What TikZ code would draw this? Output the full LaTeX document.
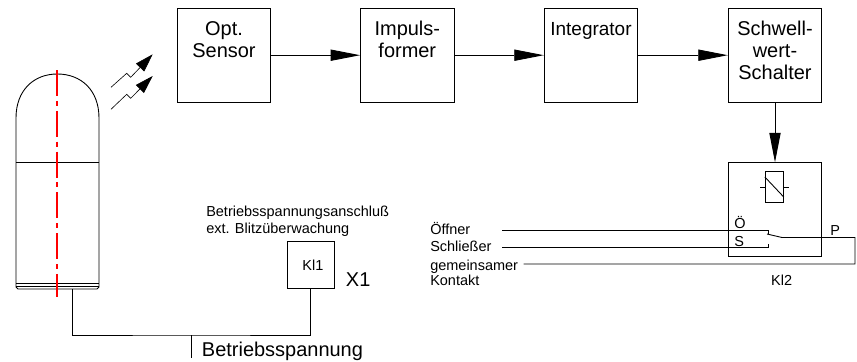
\documentclass[tikz,border=0pt]{standalone}
\usepackage{fontspec}
\setmainfont{Liberation Sans}
\usetikzlibrary{arrows.meta,positioning,calc}
\definecolor{axisred}{RGB}{255,0,0}
\tikzset{>={Triangle[length=21pt,width=8pt]}}
\tikzset{line/.style={line width=0.22mm}}
\tikzset{blockbox/.style={draw,line width=0.22mm,inner sep=0pt,minimum width=66.5pt,minimum height=66.5pt}}
\tikzset{bigtxt/.style={inner sep=0pt,font=\fontsize{14.2}{15.8}\selectfont,align=left}}
\tikzset{smalltxt/.style={inner sep=0pt,font=\fontsize{10.3}{12}\selectfont,align=left}}
\newcommand{\blocktext}[1]{\parbox[c][66pt][t]{66pt}{\centering\fontsize{14.2}{15.8}\selectfont\rule{0pt}{18.8pt}#1}}

\begin{document}
\begin{tikzpicture}[x=0.025cm,y=-0.025cm]
\useasboundingbox (0,0) rectangle (857,362);
% signal chain
\node[blockbox] (sensor) at (224,55.2) {\blocktext{Opt.\\Sensor}};
\node[blockbox] (former) at (407.3,55.2) {\blocktext{Impuls-\\former}};
\node[blockbox] (integrator) at (591,55.2) {\blocktext{\fontsize{13.5}{15.8}\selectfont Integrator}};
\node[blockbox] (switch) at (775,55.2) {\blocktext{Schwell-\\wert-\\Schalter}};
\node[blockbox] (relay) at (775,209.5) {};
\draw[->, line] (sensor) -- (former);
\draw[->, line] (former) -- (integrator);
\draw[->, line] (integrator) -- (switch);
\draw[->, line] (switch) -- (relay);
% lamp
\draw[line] (16,118) .. controls (16,90) and (34,74) .. (57.3,74) .. controls (81,74) and (99,90) .. (99,118)
  -- (99,287) -- (97,289) -- (18,289) -- (16,287) -- cycle;
\draw[line] (16,162) -- (99,162);
\draw[line] (16,283) -- (99,283);
\draw[line] (16,286) -- (99,286);
\draw[draw=axisred, line width=0.42mm, dash pattern=on 18.5pt off 3.5pt on 3.5pt off 3.5pt] (57.3,70) -- (57.3,297);
% light
\coordinate (ray1a) at (111,87.3);
\coordinate (ray1b) at (126.7,73.3);
\coordinate (ray1c) at (130.7,77.3);
\coordinate (ray1d) at (152.7,54.3);
\coordinate (ray2a) at (111,109.3);
\coordinate (ray2b) at (126.7,94.3);
\coordinate (ray2c) at (130.7,98.3);
\coordinate (ray2d) at (152.7,76);
\draw[-{Triangle[length=13pt,width=8pt]}, line width=0.15mm] (ray1a) -- (ray1b) -- (ray1c) -- (ray1d);
\draw[-{Triangle[length=13pt,width=8pt]}, line width=0.15mm] (ray2a) -- (ray2b) -- (ray2c) -- (ray2d);
% supply
\node[blockbox,minimum width=33.5pt,minimum height=33.5pt,font=\fontsize{10.3}{11.4}\selectfont] (kl1) at (310.8,265.3) {\hspace{3pt}Kl1};
\coordinate (lampfoot) at (72,289);
\coordinate (branch) at (191.7,335);
\coordinate (supply) at (191.7,358);
\draw[line] (lampfoot) |- (branch) -| (kl1);
\draw[line] (branch) -- (supply);
\node[smalltxt,anchor=base west] (kl1title) at (206,233) {Betriebsspannungsanschluß\\ext. Blitzüberwachung};
\node[bigtxt,anchor=base west] (x1) at (345.7,286.7) {X1};
\node[bigtxt,anchor=base west] (supplytxt) at (201.7,356) {Betriebsspannung};
% relay
\node[draw,line width=0.22mm,inner sep=0pt,minimum width=12.8pt,minimum height=22.5pt] (coil) at (774.3,187) {};
\coordinate (coilleft) at (760,187);
\coordinate (coilright) at (788.5,187);
\draw[line] (coilleft) -- (coil);
\draw[line] (coil) -- (coilright);
\draw[line] ($(coil.west)+(0,-10)$) -- ($(coil.east)+(0,10)$);
% contacts
\coordinate (lineoe) at (502,230.7);
\coordinate (lines) at (502,247.5);
\coordinate (linec) at (523.5,264);
\coordinate (contoe) at (768.5,230.7);
\coordinate (conts) at (768.5,247.5);
\coordinate (armstart) at (767,234);
\coordinate (armend) at (782,237.5);
\coordinate (corner) at (855,237.5);
\draw[line] (lineoe) -- (contoe) -- ($(contoe)+(0,3.5)$);
\draw[line] (lines) -- (conts) -- ($(conts)+(0,-4)$);
\draw[line] (armstart) -- (armend) -- (corner) |- (linec);
\node[smalltxt,anchor=base west] (oetxt) at (430,234.3) {Öffner};
\node[smalltxt,anchor=base west] (stxt) at (430,251.3) {Schließer};
\node[smalltxt,anchor=base west] (ctxt) at (430,270) {gemeinsamer};
\node[smalltxt,anchor=base west] (ktxt) at (430,285.7) {Kontakt};
\node[smalltxt,anchor=base west] (oe) at (734,228.3) {Ö};
\node[smalltxt,anchor=base west] (s) at (734,246.3) {S};
\node[smalltxt,anchor=base west] (p) at (830,235) {P};
\node[smalltxt,anchor=base] (kl2) at (781.7,285) {Kl2};
\end{tikzpicture}
\end{document}
